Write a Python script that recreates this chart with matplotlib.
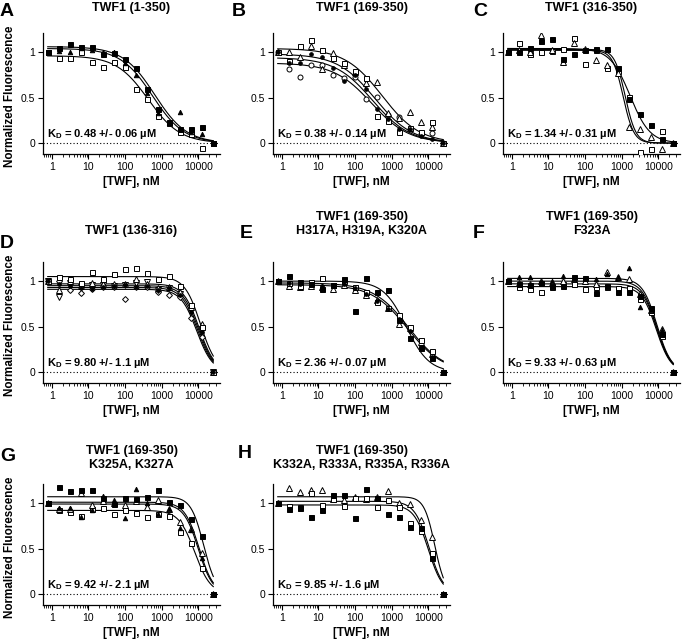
import numpy as np
import matplotlib
matplotlib.use('Agg')
import matplotlib.pyplot as plt
from matplotlib.ticker import FixedLocator, FixedFormatter, NullFormatter
from matplotlib.transforms import blended_transform_factory

plt.rcParams['font.family'] = ['Liberation Sans', 'DejaVu Sans']
plt.rcParams['mathtext.fontset'] = 'custom'
plt.rcParams['mathtext.rm'] = 'Liberation Sans'
plt.rcParams['mathtext.bf'] = 'Liberation Sans:bold'

# ---------------- data ----------------
conc = [0.78, 1.56, 3.125, 6.25, 12.5, 25, 50, 100, 200, 400, 800, 1600, 3200, 6400, 12800, 25600]

A_fsq = [1.00, 1.05, 1.09, 1.06, 1.06, 0.98, 0.99, 0.92, 0.82, 0.59, 0.37, 0.23, 0.15, 0.16, 0.18, 0.00]
A_ftri = [1.00, 1.01, 1.00, 1.04, 1.02, 1.00, 1.00, 0.88, 0.75, 0.55, 0.33, 0.22, 0.34, 0.12, 0.10, 0.00]
A_osq = [1.00, 0.93, 0.93, 1.00, 0.89, 0.84, 0.89, 0.84, 0.59, 0.49, 0.30, 0.22, 0.12, 0.10, -0.05, 0.00]
A_top = [1.06, 1.04, 0.96]
A_ic50 = [650, 560, 430]
A_hill = [1.0, 1.0, 1.0]

B_osq = [1.00, 0.90, 1.07, 1.13, 1.02, 0.93, 0.88, 0.79, 0.72, 0.30, 0.24, 0.12, 0.17, 0.12, 0.23, 0.00]
B_otri = [1.00, 1.00, 0.95, 1.07, 0.81, 0.99, 0.86, 0.78, 0.66, 0.67, 0.33, 0.28, 0.34, 0.23, 0.18, 0.00]
B_ocirc = [1.00, 0.81, 0.73, 0.86, 0.86, 0.75, 0.71, 0.73, 0.49, 0.51, 0.31, 0.29, 0.16, 0.10, 0.11, 0.00]
B_fcirc = [1.00, 0.88, 0.88, 0.98, 0.95, 0.82, 0.68, 0.75, 0.59, 0.38, 0.27, 0.16, 0.15, 0.08, 0.05, 0.00]
B_top = [1.04, 0.98, 0.94, 0.88]
B_ic50 = [550, 350, 300, 280]
B_hill = [0.85, 0.85, 0.85, 0.85]

C_fsq = [1.00, 1.00, 1.05, 1.12, 1.14, 0.92, 0.98, 1.02, 1.03, 1.03, 0.82, 0.48, 0.32, 0.20, 0.05, 0.00]
C_otri = [1.00, 1.02, 1.00, 1.19, 1.02, 0.89, 1.10, 1.03, 0.91, 0.86, 0.77, 0.18, 0.16, 0.07, -0.07, 0.00]
C_osq = [1.00, 1.10, 0.98, 1.00, 1.01, 1.03, 1.15, 0.87, 1.02, 0.82, 0.79, 0.51, -0.10, -0.06, 0.13, 0.00]
C_top = [1.04, 1.03, 1.02]
C_ic50 = [1700, 1250, 1100]
C_hill = [1.6, 3.0, 3.0]

D_osq = [1.00, 1.04, 1.02, 0.98, 1.10, 1.02, 1.08, 1.13, 1.14, 1.09, 1.02, 1.06, 0.95, 0.74, 0.50, 0.00]
D_otri = [1.00, 0.90, 1.00, 0.95, 0.98, 0.97, 0.97, 0.97, 1.02, 0.97, 0.92, 0.93, 0.88, 0.72, 0.53, 0.00]
D_dtri = [1.00, 0.82, 0.98, 0.93, 0.96, 0.96, 0.95, 0.96, 0.98, 0.99, 0.90, 0.92, 0.86, 0.68, 0.47, 0.00]
D_odia = [1.00, 1.00, 0.90, 0.87, 0.91, 0.93, 0.93, 0.80, 0.93, 0.94, 0.88, 0.85, 0.83, 0.59, 0.39, 0.00]
D_fcirc = [1.00, 0.97, 0.95, 0.92, 0.91, 0.94, 0.95, 0.96, 0.94, 0.95, 0.90, 0.92, 0.85, 0.66, 0.44, 0.00]
D_top = [1.05, 0.97, 0.95, 0.93, 0.91]
D_ic50 = [11500, 10500, 10000, 9500, 9000]
D_hill = [2.0, 2.0, 2.0, 2.0, 2.0]

E_fsq = [1.00, 1.06, 0.99, 0.97, 0.91, 0.96, 1.02, 0.67, 1.03, 0.88, 0.90, 0.57, 0.37, 0.26, 0.15, 0.00]
E_osq = [1.00, 0.98, 0.95, 0.99, 1.03, 0.96, 1.00, 0.94, 0.88, 0.77, 0.70, 0.63, 0.50, 0.35, 0.23, 0.00]
E_otri = [1.00, 0.95, 0.94, 0.95, 0.93, 0.91, 0.96, 0.90, 0.85, 0.79, 0.70, 0.53, 0.48, 0.33, 0.20, 0.00]
E_fcirc = [1.00, 0.98, 0.97, 0.96, 0.95, 0.96, 0.97, 0.92, 0.86, 0.78, 0.69, 0.58, 0.45, 0.27, 0.17, 0.00]
E_top = [1.00, 0.98, 0.96]
E_ic50 = [2500, 2900, 2700]
E_hill = [1.4, 0.9, 0.9]

F_ftri = [1.00, 1.05, 1.04, 0.99, 1.00, 1.06, 1.02, 1.03, 1.02, 1.08, 1.05, 1.14, 0.72, 0.68, 0.46, 0.00]
F_fsq = [1.00, 0.97, 0.96, 0.98, 0.95, 0.95, 1.05, 1.03, 0.87, 0.95, 0.88, 0.88, 0.84, 0.70, 0.42, 0.00]
F_osq = [1.00, 0.94, 0.91, 0.88, 0.93, 0.97, 0.97, 0.91, 0.93, 0.94, 0.92, 0.92, 0.80, 0.66, 0.40, 0.00]
F_otri = [1.00, 0.98, 0.97, 1.00, 0.98, 1.00, 1.02, 1.00, 0.97, 1.10, 1.05, 1.02, 0.86, 0.68, 0.47, 0.00]
F_top = [1.03, 1.00, 0.97, 0.94]
F_ic50 = [9200, 9000, 9000, 8800]
F_hill = [2.2, 2.2, 2.2, 2.2]

G_fsq = [1.00, 1.18, 1.13, 1.14, 1.14, 1.06, 0.99, 1.06, 1.04, 1.07, 1.14, 1.01, 0.98, 0.82, 0.64, 0.00]
G_ftri = [1.00, 0.95, 0.95, 0.85, 0.92, 1.08, 1.03, 0.84, 1.15, 1.00, 0.88, 0.93, 0.73, 0.70, 0.40, 0.00]
G_otri = [1.00, 0.94, 0.93, 1.11, 0.98, 1.02, 1.00, 0.98, 1.02, 0.96, 1.03, 0.93, 0.79, 0.71, 0.45, 0.00]
G_osq = [1.00, 0.92, 0.90, 0.86, 0.93, 0.95, 0.88, 0.92, 0.89, 0.85, 0.88, 0.86, 0.68, 0.56, 0.29, 0.00]
G_top = [1.07, 1.01, 0.99, 0.92]
G_ic50 = [14000, 10500, 10000, 8000]
G_hill = [2.5, 2.2, 2.2, 2.0]

H_otri = [1.00, 1.17, 1.12, 1.14, 1.14, 1.05, 1.03, 1.07, 1.04, 1.07, 1.13, 1.00, 0.99, 0.81, 0.63, 0.00]
H_fsq = [1.00, 0.94, 0.95, 0.85, 0.92, 1.09, 1.09, 0.84, 1.15, 1.06, 0.88, 0.85, 0.74, 0.73, 0.40, 0.00]
H_osq = [1.00, 0.97, 0.96, 1.11, 0.98, 1.04, 0.97, 1.06, 1.06, 0.96, 1.03, 0.96, 0.78, 0.69, 0.45, 0.00]
H_top = [1.07, 1.02, 0.98]
H_ic50 = [15000, 10500, 10000]
H_hill = [3.0, 2.2, 2.2]

letters = ['A', 'B', 'C', 'D', 'E', 'F', 'G', 'H']
titles = ['TWF1 (1-350)', 'TWF1 (169-350)', 'TWF1 (316-350)',
          'TWF1 (136-316)', 'TWF1 (169-350)\nH317A, H319A, K320A', 'TWF1 (169-350)\nF323A',
          'TWF1 (169-350)\nK325A, K327A', 'TWF1 (169-350)\nK332A, R333A, R335A, R336A']
kd_texts = ['0.48 +/- 0.06', '0.38 +/- 0.14', '1.34 +/- 0.31',
            '9.80 +/- 1.1', '2.36 +/- 0.07', '9.33 +/- 0.63',
            '9.42 +/- 2.1', '9.85 +/- 1.6']
x_ticks = [1, 10, 100, 1000, 10000]
x_tick_labels = ['1', '10', '100', '1000', '10000']
y_ticks = [0, 0.5, 1]
y_tick_labels = ['0', '0.5', '1']

# marker styles: (marker, filled, size)
OSQ = ('s', False, 3.6)
FSQ = ('s', True, 3.6)
OTRI = ('^', False, 3.8)
FTRI = ('^', True, 3.2)
OCIRC = ('o', False, 3.6)
FCIRC = ('o', True, 2.6)
DTRI = ('v', False, 3.8)
ODIA = ('D', False, 3.0)

panels = [
    ([(A_osq, OSQ), (A_ftri, FTRI), (A_fsq, FSQ)], (A_top, A_ic50, A_hill)),
    ([(B_ocirc, OCIRC), (B_otri, OTRI), (B_osq, OSQ), (B_fcirc, FCIRC)], (B_top, B_ic50, B_hill)),
    ([(C_osq, OSQ), (C_otri, OTRI), (C_fsq, FSQ)], (C_top, C_ic50, C_hill)),
    ([(D_odia, ODIA), (D_dtri, DTRI), (D_otri, OTRI), (D_osq, OSQ), (D_fcirc, FCIRC)], (D_top, D_ic50, D_hill)),
    ([(E_otri, OTRI), (E_osq, OSQ), (E_fcirc, FCIRC), (E_fsq, FSQ)], (E_top, E_ic50, E_hill)),
    ([(F_osq, OSQ), (F_otri, OTRI), (F_ftri, FTRI), (F_fsq, FSQ)], (F_top, F_ic50, F_hill)),
    ([(G_osq, OSQ), (G_otri, OTRI), (G_ftri, FTRI), (G_fsq, FSQ)], (G_top, G_ic50, G_hill)),
    ([(H_otri, OTRI), (H_osq, OSQ), (H_fsq, FSQ)], (H_top, H_ic50, H_hill)),
]

# ---------------- layout ----------------
W, H = 683, 639
fig = plt.figure(figsize=(W / 100, H / 100), dpi=100)

col_left = [43, 273, 503]
row_top = [33, 262, 484]
ax_w, ax_h = 177, 121
title_base = [11.5, 233.5, 467.5]
letter_pos = [(0, 16), (232, 16), (473, 16), (0, 248), (240, 238), (473, 238), (0, 461), (238, 458)]
XMIN, XMAX = 0.58, 39000

def fx(px):
    return px / W

def fy(py):
    return 1 - py / H

for i, (series, curve) in enumerate(panels):
    r, c = divmod(i, 3)
    left, top = col_left[c], row_top[r]
    ax = fig.add_axes([fx(left), fy(top + ax_h), ax_w / W, ax_h / H])
    ax.set_xscale('log')
    ax.set_xlim(XMIN, XMAX)
    ax.set_ylim(-0.12, 1.21)

    ax.axhline(0, ls=(0, (1, 2)), color='black', lw=0.8, zorder=1)

    xs = np.logspace(np.log10(conc[0]), np.log10(conc[-1]), 300)
    for top_v, ic, n in zip(*curve):
        ax.plot(xs, top_v / (1 + (xs / ic) ** n), color='black', lw=0.8, zorder=2)

    for vals, (mk, filled, ms) in series:
        ax.plot(conc, vals, ls='none', marker=mk, ms=ms,
                mfc='black' if filled else 'white', mec='black', mew=0.7, zorder=3)

    for s in ['top', 'right']:
        ax.spines[s].set_visible(False)
    for s in ['left', 'bottom']:
        ax.spines[s].set_linewidth(0.9)
    ax.xaxis.set_major_locator(FixedLocator(x_ticks))
    ax.xaxis.set_major_formatter(FixedFormatter(x_tick_labels))
    minors = [m * 10.0 ** e for e in range(-1, 5) for m in range(2, 10)]
    minors = [v for v in minors if XMIN <= v <= XMAX]
    ax.xaxis.set_minor_locator(FixedLocator(minors))
    ax.xaxis.set_minor_formatter(NullFormatter())
    ax.yaxis.set_major_locator(FixedLocator(y_ticks))
    ax.yaxis.set_major_formatter(FixedFormatter(y_tick_labels))
    ax.tick_params(which='major', direction='out', length=3.5, width=0.8, labelsize=7.5, pad=2)
    ax.tick_params(which='minor', direction='out', length=2, width=0.6)

    tr = blended_transform_factory(ax.transAxes, ax.transData)
    ax.text(0.025, 0.10, r'$\mathbf{K_D}$ = ' + kd_texts[i] + ' µM', transform=tr,
            fontsize=8, fontweight='bold', va='center', ha='left')

    ax.set_xlabel('[TWF], nM', fontsize=8.5, fontweight='bold', labelpad=3)
    if c == 0:
        fig.text(fx(10), fy(top + ax_h / 2 + 3), 'Normalized Fluorescence', rotation=90,
                 fontsize=8.4, fontweight='bold', ha='center', va='center')

    fig.text(fx(left + ax_w / 2), fy(title_base[r]), titles[i], fontsize=9, fontweight='bold',
             ha='center', va='baseline', linespacing=1.15)
    lx, ly = letter_pos[i]
    fig.text(fx(lx), fy(ly), letters[i], fontsize=14, fontweight='bold', ha='left', va='baseline')

fig.savefig('out.png', dpi=100)
